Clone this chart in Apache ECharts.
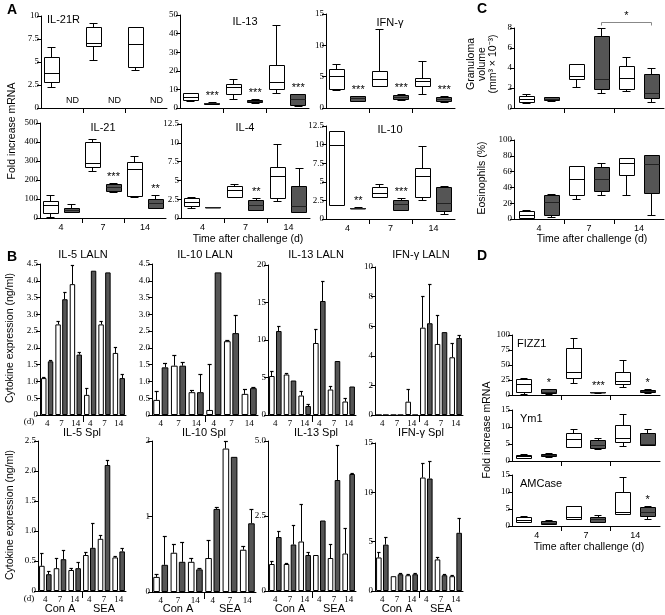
<!DOCTYPE html>
<html><head><meta charset="utf-8">
<script src="https://cdn.jsdelivr.net/npm/echarts@6/dist/echarts.min.js"></script>
<style>html,body{margin:0;padding:0;background:#fff}#c{width:665px;height:615px}</style>
</head><body><div id="c"></div>
<script>
// ================= DATA =================
const days = ['4', '7', '14'];
// Box order in each panel: d4 open, d4 filled, d7 open, d7 filled, d14 open, d14 filled
// each box: [min, q1, median, q3, max]
const il21rBoxes = [[2.2,2.8,3.8,5.5,6.6], null, [5.2,6.7,7.0,8.7,9.2], null, [4.1,4.35,6.9,8.7,8.8], null];
const il21rNotes = ['', 'ND', '', 'ND', '', 'ND'];
const il13Boxes = [[3.5,4.3,5.8,7.6,8.0],[1.8,2.0,2.3,2.6,2.8],[4.7,7.0,11.2,12.4,15.4],[2.6,3.0,3.5,4.0,4.4],[7.9,9.7,13.6,22.7,44.2],[1.0,1.6,4.7,7.0,7.2]];
const il13Sig = ['', '***', '', '***', '', '***'];
const ifngBoxes = [[2.8,3.0,5.1,6.1,6.9],[1.0,1.1,1.5,1.8,1.9],[3.5,3.5,4.5,5.9,12.6],[1.2,1.3,1.6,2.0,2.1],[2.1,3.5,4.3,4.7,7.5],[0.9,1.0,1.3,1.7,1.9]];
const ifngSig = ['', '***', '', '***', '', '***'];
const il21Boxes = [[2,23,67,88,116],[28,28,41,50,71],[243,264,287,396,413],[134,140,160,178,182],[108,111,255,290,322],[50,50,76,99,120]];
const il21Sig = ['', '', '', '***', '', '**'];
const il4Boxes = [[1.2,1.5,2.0,2.6,2.7],[1.35,1.38,1.4,1.42,1.45],[2.7,2.7,3.6,4.25,4.5],[1.0,1.06,1.6,2.3,2.6],[2.26,2.6,5.5,6.74,9.84],[0.7,0.7,1.5,4.2,6.6]];
const il4Sig = ['', '', '', '**', '', ''];
const il10Boxes = [[1.8,1.8,9.9,11.8,11.8],[1.42,1.44,1.45,1.46,1.48],[2.9,2.9,3.45,4.2,4.6],[1.2,1.2,1.9,2.45,2.75],[2.45,2.9,5.7,6.8,9.8],[0.6,1.0,2.1,4.3,4.4]];
const il10Sig = ['', '**', '', '***', '', ''];

const granBoxes = [[0.47,0.54,0.87,1.13,1.37],[0.65,0.73,0.9,1.07,1.1],[2.07,2.87,3.13,4.4,4.4],[1.47,1.87,2.87,7.2,7.97],[1.63,1.87,2.97,4.2,5.07],[0.54,0.97,1.47,3.4,3.97]];
const granBracket = [3, 5, 8.6, '*']; // from box index, to box index, level, text
const eosBoxes = [[0,0.5,5,9,10.5],[2,5,20.6,30,30.4],[25,30,50,66,66],[30,35,50,65,70],[30,55,70,76,76],[4,32,69,81,81]];

const fizzBoxes = [[1,4,17,26,28],[1,2,5,9,10],[20,27,38,78,95],[3,3.5,4,4.5,5],[12,17,22,38,58],[3,4,6,8,9]];
const fizzSig = ['', '*', '', '***', '', '*'];
const ym1Boxes = [[0.6,0.8,1.2,1.6,1.8],[1.0,1.2,1.5,2.0,2.1],[4.1,4.1,6.2,8.2,9.4],[3.5,3.8,4.7,5.9,6.5],[4.4,5.3,6.5,10.3,13.8],[4.7,4.7,5.0,8.2,9.4]];
const amcBoxes = [[0.9,1.0,1.6,2.6,2.8],[0.3,0.4,0.8,1.4,1.6],[1.8,1.8,2.6,5.6,5.8],[0.9,0.9,1.8,2.4,3.2],[3.5,3.5,4.1,10,14.4],[2.0,2.9,4.1,5.5,5.6]];
const amcSig = ['', '', '', '', '', '*'];

// Bars: categories Con A 4,7,14 then SEA 4,7,14 ; open (white) and filled bars; errors = upper end of error bar
const il5LalnOpen = [1.1, 2.7, 3.9, 0.6, 2.7, 1.85];
const il5LalnOpenErr = [1.13, 2.78, 4.45, 0.8, 2.8, 2.0];
const il5LalnFill = [1.6, 3.45, 1.8, 4.3, 4.25, 1.1];
const il5LalnFillErr = [1.62, 3.65, 1.86, null, null, 1.2];
const il5LalnFillInner = [null, null, null, 3.4, 3.85, null];

const il10LalnOpen = [0.45, 1.47, 0.68, 0.15, 2.2, 0.63];
const il10LalnOpenErr = [0.7, 1.77, 0.72, 1.5, 2.23, 0.77];
const il10LalnFill = [1.42, 1.47, 0.68, 4.25, 2.44, 0.8];
const il10LalnFillErr = [1.52, 1.57, 1.22, null, 2.98, 0.83];
const il10LalnFillInner = [null, null, null, 3.85, null, null];

const il13LalnOpen = [5.2, 5.4, 2.6, 9.6, 3.4, 1.8];
const il13LalnOpenErr = [5.8, 5.6, 3.2, 11.4, 3.8, 2.2];
const il13LalnFill = [11.2, 4.6, 1.2, 15.2, 7.2, 3.8];
const il13LalnFillErr = [11.8, null, 1.35, 17.8, null, null];

const ifnLalnOpen = [0, 0, 0.9, 5.9, 4.8, 3.9];
const ifnLalnOpenErr = [null, null, 1.7, 8.0, 6.7, 4.8];
const ifnLalnFill = [0, 0, 0, 6.2, 5.6, 5.2];
const ifnLalnFillErr = [null, null, null, 8.8, null, 5.4];

const il5SplOpen = [0.42, 0.38, 0.35, 0.6, 0.87, 0.56];
const il5SplOpenErr = [0.62, 0.55, 0.37, 0.65, 0.92, 0.57];
const il5SplFill = [0.28, 0.53, 0.38, 0.72, 2.1, 0.66];
const il5SplFillErr = [0.32, 0.68, 0.48, 1.13, 2.17, 0.71];

const il10SplOpen = [0.2, 0.52, 0.4, 0.45, 1.9, 0.56];
const il10SplOpenErr = [0.23, 0.63, 0.44, 0.68, 2.0, 0.6];
const il10SplFill = [0.36, 0.4, 0.3, 1.1, 1.79, 0.91];
const il10SplFillErr = [0.74, 0.65, 0.31, 1.12, null, 1.09];
const il10SplFillInner = [null, null, null, null, 1.28, null];

const il13SplOpen = [0.9, 0.9, 1.65, 1.2, 1.1, 1.25];
const il13SplOpenErr = [1.0, 0.92, 2.9, null, 1.55, 2.1];
const il13SplFill = [1.8, 1.55, 1.2, 2.35, 3.7, 3.9];
const il13SplFillErr = [2.0, 2.2, 1.3, null, 4.85, 3.93];

const ifnSplOpen = [3.4, 1.5, 1.6, 11.5, 3.2, 1.5];
const ifnSplOpenErr = [3.9, null, 1.65, 12.9, 3.4, 1.6];
const ifnSplFill = [4.7, 1.7, 1.7, 11.4, 1.6, 5.9];
const ifnSplFillErr = [5.4, 1.75, 1.75, 13.1, 1.7, 7.3];

// ================= BUILD =================
const SANS = "'Liberation Sans', Arial, sans-serif";
const SERIF = "'Liberation Serif', 'Times New Roman', serif";
const DARK = '#555555';
const option = {animation: false, grid: [], xAxis: [], yAxis: [], series: [], graphic: []};
const crisp = v => Math.round(v - 0.5) + 0.5;

function addGrid(r) {
  const gi = option.grid.length;
  option.grid.push({left: r[0], top: r[1], width: r[2], height: r[3], containLabel: false, outerBoundsMode: 'none'});
  return gi;
}
function addY(gi, y, fmt) {
  option.yAxis.push({type: 'value', gridIndex: gi, min: y[0], max: y[1], interval: y[2],
    axisLine: {show: true, lineStyle: {color: '#000', width: 1}},
    axisTick: {show: true, length: 4, lineStyle: {color: '#000', width: 1}},
    splitLine: {show: false},
    axisLabel: {show: true, fontFamily: SERIF, fontSize: 9, color: '#000', margin: 2, formatter: fmt}});
}
function addXBox(gi, showLabels) {
  option.xAxis.push({type: 'value', gridIndex: gi, min: 0, max: 6,
    axisLine: {show: true, onZero: false, lineStyle: {color: '#000', width: 1}},
    axisTick: {show: true, length: 5, customValues: [2, 4], lineStyle: {color: '#000', width: 1}},
    splitLine: {show: false},
    axisLabel: {show: showLabels, customValues: [1, 3, 5], formatter: v => days[Math.round((v - 1) / 2)],
      fontFamily: SANS, fontSize: 9, color: '#000', margin: 5}});
}
function addXBar(gi) {
  option.xAxis.push({type: 'value', gridIndex: gi, min: 0, max: 6,
    axisLine: {show: true, onZero: false, lineStyle: {color: '#000', width: 1}},
    axisTick: {show: true, length: 7, customValues: [3], lineStyle: {color: '#000', width: 1}},
    splitLine: {show: false},
    axisLabel: {show: true, customValues: [0.5, 1.5, 2.5, 3.5, 4.5, 5.5], formatter: v => days[Math.floor(v) % 3],
      fontFamily: SERIF, fontSize: 9, color: '#000', margin: 4}});
}
function boxSeries(gi, boxes, o) {
  o = o || {};
  const bf = o.boxFrac || 0.7, cf = o.capFrac || 0.38;
  const data = boxes.map((b, i) => [i + 0.5].concat(b || [0, 0, 0, 0, 0]));
  option.series.push({type: 'custom', xAxisIndex: gi, yAxisIndex: gi, clip: false, silent: true, data,
    renderItem(params, api) {
      const i = params.dataIndex;
      const x = api.value(0);
      const band = api.size([1, 0])[0];
      const cx = api.coord([x, 0])[0];
      const ch = [];
      if (!boxes[i]) {
        if (o.notes && o.notes[i]) {
          const p = api.coord([x, 0]);
          ch.push({type: 'text', x: cx, y: p[1] - 3, style: {text: o.notes[i], fill: '#000', font: '9px ' + SANS, textAlign: 'center', textVerticalAlign: 'bottom'}});
        }
        return {type: 'group', children: ch};
      }
      const ys = [1, 2, 3, 4, 5].map(k => crisp(api.coord([x, api.value(k)])[1]));
      const [yMin, yQ1, yMed, yQ3, yMax] = ys;
      const bw = Math.round(band * bf), cw = Math.round(band * cf);
      const left = crisp(cx - bw / 2), xc = crisp(cx);
      const filled = i % 2 === 1;
      const st = {stroke: '#000', lineWidth: 1};
      ch.push({type: 'line', shape: {x1: xc, y1: yMax, x2: xc, y2: yQ3}, style: st});
      ch.push({type: 'line', shape: {x1: xc, y1: yQ1, x2: xc, y2: yMin}, style: st});
      ch.push({type: 'line', shape: {x1: crisp(cx - cw / 2), y1: yMax, x2: crisp(cx + cw / 2), y2: yMax}, style: st});
      ch.push({type: 'line', shape: {x1: crisp(cx - cw / 2), y1: yMin, x2: crisp(cx + cw / 2), y2: yMin}, style: st});
      ch.push({type: 'rect', shape: {x: left, y: yQ3, width: bw, height: Math.max(yQ1 - yQ3, 0.5)},
        style: {fill: filled ? DARK : '#fff', stroke: '#000', lineWidth: 1}});
      ch.push({type: 'line', shape: {x1: left, y1: yMed, x2: left + bw, y2: yMed},
        style: {stroke: filled ? '#222' : '#000', lineWidth: 1}});
      if (o.sig && o.sig[i]) {
        ch.push({type: 'text', x: cx, y: yMax - 1, style: {text: o.sig[i], fill: '#000', font: '11px ' + SANS, textAlign: 'center', textVerticalAlign: 'bottom'}});
      }
      return {type: 'group', children: ch};
    }});
}
const BW = 0.38, GAP = 0.25;
function barPanel(gi, open, openErr, fill, fillErr, fillInner) {
  const common = {type: 'bar', xAxisIndex: gi, yAxisIndex: gi, barWidth: (BW * 100) + '%', barGap: (GAP * 100) + '%', silent: true};
  option.series.push(Object.assign({}, common, {data: open.map((v, i) => [i + 0.5, v]),
    itemStyle: {color: '#fff', borderColor: '#000', borderWidth: 1}}));
  option.series.push(Object.assign({}, common, {data: fill.map((v, i) => [i + 0.5, v]),
    itemStyle: {color: DARK, borderColor: '#000', borderWidth: 1}}));
  const err = [];
  open.forEach((v, i) => { if (openErr[i] != null) err.push([i + 0.5, v, openErr[i], -1, 0]); });
  fill.forEach((v, i) => { if (fillErr[i] != null) err.push([i + 0.5, v, fillErr[i], 1, 0]); });
  if (fillInner) fill.forEach((v, i) => { if (fillInner[i] != null) err.push([i + 0.5, fillInner[i], v, 1, 1]); });
  option.series.push({type: 'custom', xAxisIndex: gi, yAxisIndex: gi, clip: false, silent: true, data: err,
    renderItem(params, api) {
      const band = api.size([1, 0])[0];
      const bw = band * BW, gap = bw * GAP;
      const cx = api.coord([api.value(0), 0])[0] + api.value(3) * (bw + gap) / 2;
      const y1 = api.coord([0, api.value(1)])[1], y2 = api.coord([0, api.value(2)])[1];
      const xx = crisp(cx);
      if (api.value(4) === 1) {
        return {type: 'line', shape: {x1: xx, y1: y1, x2: xx, y2: y2 + 1}, style: {stroke: '#fff', lineWidth: 1.5}};
      }
      const cap = bw * 0.6;
      return {type: 'group', children: [
        {type: 'line', shape: {x1: xx, y1: y1, x2: xx, y2: crisp(y2)}, style: {stroke: '#000', lineWidth: 1}},
        {type: 'line', shape: {x1: cx - cap / 2, y1: crisp(y2), x2: cx + cap / 2, y2: crisp(y2)}, style: {stroke: '#000', lineWidth: 1.2}}
      ]};
    }});
}
function txt(x, y, text, font, align, valign, rot) {
  option.graphic.push({type: 'text', x: x, y: y, rotation: rot || 0, silent: true,
    style: {text: text, font: font, fill: '#000', textAlign: align || 'center', textVerticalAlign: valign || 'middle'}});
}
const fmt1 = v => v === 0 ? '0' : v.toFixed(1);

// ---- Panel A ----
let g;
g = addGrid([41, 16, 126, 92]); addY(g, [0, 10, 2.5]); addXBox(g, false); boxSeries(g, il21rBoxes, {notes: il21rNotes});
g = addGrid([180, 15, 129, 93]); addY(g, [0, 50, 10]); addXBox(g, false); boxSeries(g, il13Boxes, {sig: il13Sig});
g = addGrid([326, 14, 129, 94]); addY(g, [0, 15, 5]); addXBox(g, false); boxSeries(g, ifngBoxes, {sig: ifngSig});
g = addGrid([40, 123, 126, 95]); addY(g, [0, 500, 100]); addXBox(g, true); boxSeries(g, il21Boxes, {sig: il21Sig});
g = addGrid([181, 124, 129, 94]); addY(g, [0, 12.5, 2.5]); addXBox(g, true); boxSeries(g, il4Boxes, {sig: il4Sig});
g = addGrid([326, 126, 129, 93]); addY(g, [0, 12.5, 2.5]); addXBox(g, true); boxSeries(g, il10Boxes, {sig: il10Sig});

// ---- Panel C ----
const gGran = addGrid([514, 28, 150, 80]); addY(gGran, [0, 8, 2]); addXBox(gGran, false);
boxSeries(gGran, granBoxes, {boxFrac: 0.6, capFrac: 0.3});
option.series.push({type: 'custom', xAxisIndex: gGran, yAxisIndex: gGran, clip: false, silent: true,
  data: [[granBracket[0] + 0.5, granBracket[1] + 0.5, granBracket[2]]],
  renderItem(params, api) {
    const a = api.coord([api.value(0), api.value(2)]), b = api.coord([api.value(1), api.value(2)]);
    const y = crisp(a[1]);
    const st = {stroke: '#888', lineWidth: 1};
    return {type: 'group', children: [
      {type: 'line', shape: {x1: a[0], y1: y, x2: b[0], y2: y}, style: st},
      {type: 'line', shape: {x1: crisp(a[0]), y1: y, x2: crisp(a[0]), y2: y + 3}, style: st},
      {type: 'line', shape: {x1: crisp(b[0]), y1: y, x2: crisp(b[0]), y2: y + 3}, style: st},
      {type: 'text', x: (a[0] + b[0]) / 2, y: y - 1, style: {text: granBracket[3], fill: '#000', font: '11px ' + SANS, textAlign: 'center', textVerticalAlign: 'bottom'}}
    ]};
  }});
g = addGrid([514, 140, 150, 79]); addY(g, [0, 100, 20]); addXBox(g, true); boxSeries(g, eosBoxes, {boxFrac: 0.6, capFrac: 0.3});

// ---- Panel D ----
g = addGrid([512, 335, 148, 60]); addY(g, [0, 100, 25]); addXBox(g, false); boxSeries(g, fizzBoxes, {sig: fizzSig, boxFrac: 0.62, capFrac: 0.3});
g = addGrid([512, 410, 148, 51]); addY(g, [0, 15, 5]); addXBox(g, false); boxSeries(g, ym1Boxes, {boxFrac: 0.62, capFrac: 0.3});
g = addGrid([512, 475, 148, 51]); addY(g, [0, 15, 5]); addXBox(g, true); boxSeries(g, amcBoxes, {sig: amcSig, boxFrac: 0.62, capFrac: 0.3});

// ---- Panel B ----
const barGrids = [
  [[40, 264, 86, 151], [0, 4.5, 0.5], fmt1, il5LalnOpen, il5LalnOpenErr, il5LalnFill, il5LalnFillErr, il5LalnFillInner],
  [[152, 264, 106, 151], [0, 4.5, 0.5], fmt1, il10LalnOpen, il10LalnOpenErr, il10LalnFill, il10LalnFillErr, il10LalnFillInner],
  [[268, 265, 88, 150], [0, 20, 5], undefined, il13LalnOpen, il13LalnOpenErr, il13LalnFill, il13LalnFillErr, null],
  [[375, 267, 88, 148], [0, 10, 2], undefined, ifnLalnOpen, ifnLalnOpenErr, ifnLalnFill, ifnLalnFillErr, null],
  [[38, 441, 88, 150], [0, 2.5, 0.5], fmt1, il5SplOpen, il5SplOpenErr, il5SplFill, il5SplFillErr, null],
  [[152, 441, 104, 151], [0, 2, 1], undefined, il10SplOpen, il10SplOpenErr, il10SplFill, il10SplFillErr, il10SplFillInner],
  [[268, 441, 88, 150], [0, 5, 2.5], fmt1, il13SplOpen, il13SplOpenErr, il13SplFill, il13SplFillErr, null],
  [[375, 443, 88, 148], [0, 15, 5], undefined, ifnSplOpen, ifnSplOpenErr, ifnSplFill, ifnSplFillErr, null]
];
barGrids.forEach((b, k) => {
  const gi = addGrid(b[0]); addY(gi, b[1], b[2]); addXBar(gi);
  barPanel(gi, b[3], b[4], b[5], b[6], b[7]);
  if (k >= 4) {
    const r = b[0];
    txt(r[0] + r[2] / 4, 609, 'Con A', '11px ' + SANS);
    txt(r[0] + 3 * r[2] / 4, 609, 'SEA', '11px ' + SANS);
  }
});

// ---- Text ----
const F11 = '11px ' + SANS, F105 = '10.5px ' + SANS;
txt(7, 3, 'A', 'bold 14px ' + SANS, 'left', 'top');
txt(7, 250, 'B', 'bold 14px ' + SANS, 'left', 'top');
txt(477, 2, 'C', 'bold 14px ' + SANS, 'left', 'top');
txt(477, 249, 'D', 'bold 14px ' + SANS, 'left', 'top');
txt(47, 20, 'IL-21R', F11, 'left');
txt(245, 22, 'IL-13', F11); txt(390, 23, 'IFN-γ', F11);
txt(103, 128, 'IL-21', F11); txt(245, 128, 'IL-4', F11); txt(390, 130, 'IL-10', F11);
txt(248, 239, 'Time after challenge (d)', F105);
txt(12, 131, 'Fold increase mRNA', F105, 'center', 'middle', Math.PI / 2);
txt(482, 64, 'Granuloma\nvolume\n(mm³ × 10⁻³)', F105, 'center', 'middle', Math.PI / 2);
txt(482, 178, 'Eosinophils (%)', F105, 'center', 'middle', Math.PI / 2);
txt(592, 239, 'Time after challenge (d)', F105);
txt(83, 255, 'IL-5 LALN', F11); txt(205, 255, 'IL-10 LALN', F11); txt(316, 255, 'IL-13 LALN', F11); txt(421, 255, 'IFN-γ LALN', F11);
txt(82, 433, 'IL-5 Spl', F11); txt(204, 433, 'IL-10 Spl', F11); txt(316, 433, 'IL-13 Spl', F11); txt(421, 433, 'IFN-γ Spl', F11);
txt(10, 338, 'Cytokine expression (ng/ml)', F105, 'center', 'middle', Math.PI / 2);
txt(10, 515, 'Cytokine expression (ng/ml)', F105, 'center', 'middle', Math.PI / 2);
txt(29, 422, '(d)', '9px ' + SERIF); txt(29, 599, '(d)', '9px ' + SERIF);
txt(517, 338, 'FIZZ1', F11, 'left', 'top');
txt(520, 413, 'Ym1', F11, 'left', 'top');
txt(520, 478, 'AMCase', F11, 'left', 'top');
txt(487, 430, 'Fold increase mRNA', F105, 'center', 'middle', Math.PI / 2);
txt(589, 547, 'Time after challenge (d)', F105);

const chart = echarts.init(document.getElementById('c'), null, {renderer: 'canvas'});
chart.setOption(option);
</script>
</body></html>
